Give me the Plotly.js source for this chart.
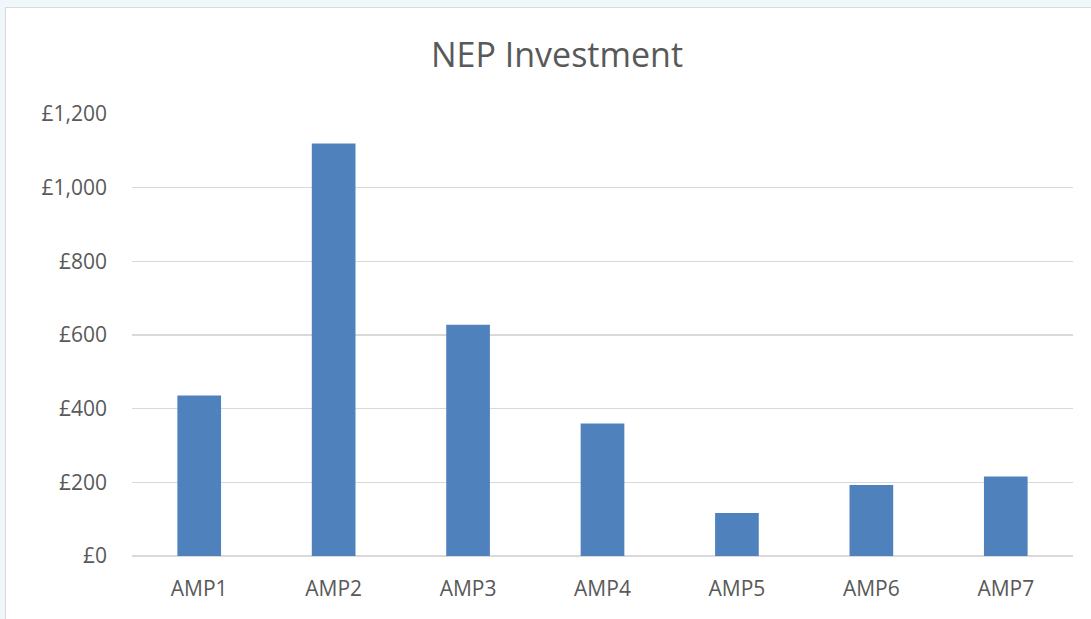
<!DOCTYPE html>
<html>
<head>
<meta charset="utf-8">
<script src="https://cdn.plot.ly/plotly-3.0.1.min.js"></script>
<style>
  html, body { margin: 0; padding: 0; background: #eff7fb; overflow: hidden; width: 1091px; height: 619px; }
  #chart { position: absolute; left: 5px; top: 7px; width: 1102px; height: 620px; border: 1px solid #d9d9d9; background: #ffffff; }
</style>
</head>
<body>
<div id="chart"></div>
<script>
const categories = ["AMP1", "AMP2", "AMP3", "AMP4", "AMP5", "AMP6", "AMP7"];
const investment = [436, 1120, 628, 360, 117, 193, 216];
const yTicks = [0, 200, 400, 600, 800, 1000, 1200];
const yTickLabels = ["\u00a30", "\u00a3200", "\u00a3400", "\u00a3600", "\u00a3800", "\u00a31,000", "\u00a31,200"];
const chartTitle = "NEP Investment";

const font = "'Open Sans', 'Noto Sans', sans-serif";

Plotly.newPlot("chart", [{
  type: "bar",
  x: categories,
  y: investment,
  marker: { color: "#4f81bd", line: { width: 0 } },
  hoverinfo: "x+y"
}], {
  width: 1102,
  height: 620,
  margin: { l: 126, r: 35, t: 106, b: 72 },
  paper_bgcolor: "#ffffff",
  plot_bgcolor: "#ffffff",
  bargap: 0.675,
  showlegend: false,
  title: {
    text: chartTitle,
    font: { family: font, size: 34, color: "#595959" },
    x: 0.5, xanchor: "center", xref: "container",
    y: 1 - 47 / 620, yanchor: "middle", yref: "container"
  },
  xaxis: {
    type: "category",
    showgrid: false,
    showline: false,
    zeroline: false,
    ticks: "",
    ticklabelstandoff: 18,
    tickfont: { family: font, size: 21, color: "#595959" }
  },
  yaxis: {
    range: [0, 1200],
    tickmode: "array",
    tickvals: yTicks,
    ticktext: yTickLabels,
    showgrid: true,
    gridcolor: "#d9d9d9",
    gridwidth: 1.5,
    zeroline: true,
    zerolinecolor: "#d9d9d9",
    zerolinewidth: 1.5,
    showline: false,
    ticks: "",
    ticklabelstandoff: 24,
    tickfont: { family: font, size: 21, color: "#595959" }
  }
}, { displayModeBar: false, staticPlot: true });
</script>
</body>
</html>
